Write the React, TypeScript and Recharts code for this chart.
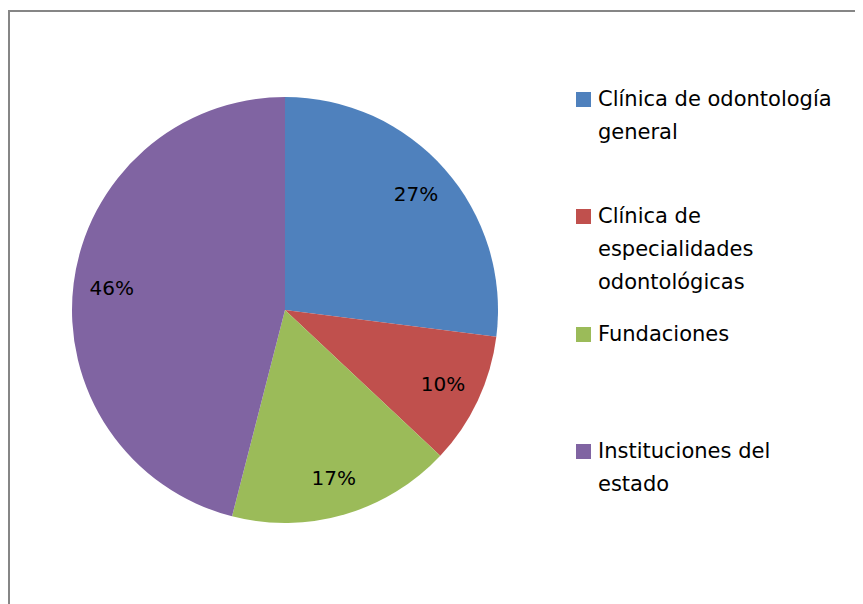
import { PieChart, Pie, Cell } from 'recharts';

const categories = [
  'Clínica de odontología general',
  'Clínica de especialidades odontológicas',
  'Fundaciones',
  'Instituciones del estado',
];
const shares = [27, 10, 17, 46];
const colors = ['#4F81BD', '#C0504D', '#9BBB59', '#8064A2'];

const data = categories.map((name, i) => ({ name, value: shares[i] }));

const FONT = '"DejaVu Sans", "Liberation Sans", sans-serif';
const RAD = Math.PI / 180;

// greedy word wrap, measured with canvas so the breaks follow the font
function wrap(text: string, maxWidth: number, font: string): string[] {
  const ctx = document.createElement('canvas').getContext('2d');
  if (!ctx) return [text];
  ctx.font = font;
  const words = text.split(' ');
  const lines: string[] = [];
  let line = '';
  for (const w of words) {
    const next = line ? line + ' ' + w : w;
    if (line && ctx.measureText(next).width > maxWidth) {
      lines.push(line);
      line = w;
    } else {
      line = next;
    }
  }
  if (line) lines.push(line);
  return lines;
}

function renderLabel(props: any) {
  const { cx, cy, midAngle, outerRadius, percent } = props;
  const r = outerRadius * 0.82;
  const x = cx + r * Math.cos(-midAngle * RAD);
  const y = cy + r * Math.sin(-midAngle * RAD);
  return (
    <text
      x={x}
      y={y}
      textAnchor="middle"
      dominantBaseline="central"
      fill="#000"
      fontSize={20}
      fontFamily={FONT}
    >
      {`${Math.round(percent * 100)}%`}
    </text>
  );
}

function Legend() {
  const top = 91;
  const gap = 117.3;
  return (
    <div style={{ position: 'absolute', left: 568, top: 0 }}>
      {data.map((d, i) => {
        const lines = wrap(d.name, 245, `21px ${FONT}`);
        return (
          <div
            key={d.name}
            style={{ position: 'absolute', top: top + i * gap - 16, left: 0, width: 290 }}
          >
            <div
              style={{
                position: 'absolute',
                left: 0,
                top: 9,
                width: 15,
                height: 15,
                background: colors[i],
              }}
            />
            <div
              style={{
                position: 'absolute',
                left: 22,
                top: 0,
                fontFamily: FONT,
                fontSize: 21,
                lineHeight: '33px',
                color: '#000',
                whiteSpace: 'nowrap',
              }}
            >
              {lines.map((l) => (
                <div key={l}>{l}</div>
              ))}
            </div>
          </div>
        );
      })}
    </div>
  );
}

export default function App() {
  return (
    <div style={{ position: 'relative', width: 855, height: 596, overflow: 'hidden', background: '#fff' }}>
      <div
        style={{
          position: 'absolute',
          left: 0,
          top: 2,
          width: 1000,
          height: 800,
          border: '2px solid #868686',
        }}
      />
      <PieChart
        width={855}
        height={596}
        margin={{ top: 0, right: 0, bottom: 0, left: 0 }}
        style={{ position: 'absolute', left: 0, top: 0 }}
      >
        <Pie
          data={data}
          dataKey="value"
          nameKey="name"
          cx={277}
          cy={302}
          outerRadius={213}
          startAngle={90}
          endAngle={-270}
          stroke="none"
          label={renderLabel}
          labelLine={false}
          isAnimationActive={false}
        >
          {data.map((d, i) => (
            <Cell key={d.name} fill={colors[i]} />
          ))}
        </Pie>
      </PieChart>
      <Legend />
    </div>
  );
}
